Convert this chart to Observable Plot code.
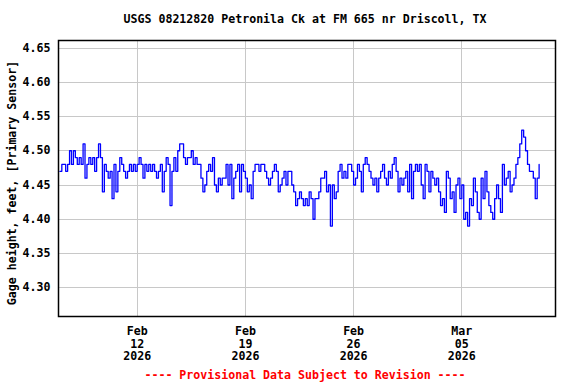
<!DOCTYPE html>
<html><head><meta charset="utf-8">
<script src="https://cdn.jsdelivr.net/npm/d3@7"></script>
<script src="https://cdn.jsdelivr.net/npm/@observablehq/plot@0.6"></script>
<style>body{margin:0;background:#fff}</style>
</head><body><div id="chart"></div>
<script>
const title = "USGS 08212820 Petronila Ck at FM 665 nr Driscoll, TX";
const yLabel = "Gage height, feet, [Primary Sensor]";
const footer = "---- Provisional Data Subject to Revision ----";
const startUTC = "2026-02-07T00:00Z";
const stepHours = 3;
const gage = [
4.47,4.48,4.48,4.47,4.48,4.50,4.48,4.50,4.49,4.48,
4.49,4.48,4.51,4.46,4.48,4.49,4.48,4.49,4.47,4.49,
4.51,4.49,4.44,4.48,4.47,4.46,4.47,4.43,4.48,4.44,
4.47,4.49,4.48,4.47,4.46,4.47,4.48,4.47,4.48,4.47,
4.48,4.49,4.48,4.46,4.48,4.47,4.48,4.47,4.48,4.47,
4.46,4.47,4.48,4.44,4.47,4.49,4.48,4.42,4.47,4.49,
4.47,4.50,4.51,4.51,4.49,4.48,4.49,4.49,4.50,4.48,
4.49,4.48,4.48,4.46,4.44,4.45,4.47,4.48,4.47,4.49,
4.45,4.44,4.46,4.45,4.46,4.46,4.48,4.45,4.48,4.43,
4.46,4.47,4.48,4.44,4.48,4.47,4.46,4.44,4.45,4.43,
4.47,4.48,4.48,4.47,4.48,4.48,4.47,4.46,4.45,4.46,
4.47,4.48,4.47,4.44,4.45,4.46,4.47,4.45,4.47,4.47,
4.45,4.44,4.42,4.43,4.44,4.43,4.42,4.43,4.42,4.44,
4.43,4.40,4.43,4.43,4.44,4.46,4.46,4.47,4.44,4.45,
4.39,4.45,4.43,4.44,4.47,4.48,4.46,4.47,4.46,4.48,
4.48,4.47,4.45,4.46,4.48,4.47,4.44,4.48,4.49,4.48,
4.47,4.46,4.45,4.46,4.44,4.46,4.47,4.48,4.46,4.45,
4.47,4.46,4.48,4.49,4.47,4.44,4.46,4.45,4.46,4.47,
4.44,4.48,4.43,4.47,4.48,4.47,4.48,4.45,4.43,4.48,
4.47,4.44,4.47,4.46,4.45,4.46,4.44,4.42,4.43,4.41,
4.47,4.46,4.43,4.44,4.41,4.45,4.46,4.43,4.45,4.40,
4.41,4.39,4.43,4.42,4.46,4.44,4.41,4.40,4.46,4.43,
4.47,4.44,4.42,4.41,4.40,4.43,4.45,4.43,4.41,4.48,
4.45,4.46,4.47,4.44,4.45,4.46,4.48,4.49,4.51,4.53,
4.52,4.50,4.48,4.47,4.47,4.46,4.43,4.46,4.48
];
const yTicks = [4.30, 4.35, 4.40, 4.45, 4.50, 4.55, 4.60, 4.65];
const xTicks = ["2026-02-12", "2026-02-19", "2026-02-26", "2026-03-05"];
const xDomain = ["2026-02-06T21:50Z", "2026-03-11T01:27Z"];
const yDomain = [4.258, 4.661];

const fontFamily = "'DejaVu Sans Mono', monospace";
const t0 = Date.parse(startUTC);
const rows = gage.map((v, i) => ({t: new Date(t0 + i * stepHours * 3600e3), v}));
const xDates = xTicks.map(d => new Date(d + "T00:00Z"));
const monthNames = ["Jan","Feb","Mar","Apr","May","Jun","Jul","Aug","Sep","Oct","Nov","Dec"];
const fmtX = d => `${monthNames[d.getUTCMonth()]}\n${String(d.getUTCDate()).padStart(2,"0")}\n${d.getUTCFullYear()}`;

const plot = Plot.plot({
  width: 576, height: 384,
  marginTop: 40, marginBottom: 68, marginLeft: 58, marginRight: 21,
  style: {fontFamily, fontSize: "11.6px", fontWeight: "bold", background: "#fff", color: "#000"},
  x: {type: "utc", domain: xDomain.map(d => new Date(d))},
  y: {domain: yDomain},
  marks: [
    Plot.gridY(yTicks, {stroke: "#c8c8c8", strokeOpacity: 1, shapeRendering: "crispEdges"}),
    Plot.gridX(xDates, {stroke: "#c8c8c8", strokeOpacity: 1, shapeRendering: "crispEdges"}),
    Plot.line(rows, {x: "t", y: "v", stroke: "#0000ff", strokeWidth: 1.3, curve: "step-after"}),
    Plot.frame({stroke: "#000", strokeWidth: 1.5}),
    Plot.axisY(yTicks, {tickSize: 0, tickPadding: 8, tickFormat: d => d.toFixed(2), label: null}),
    Plot.axisX(xDates, {tickSize: 0, tickPadding: 10, tickFormat: fmtX, label: null, lineHeight: 1.08})
  ]
});
document.getElementById("chart").appendChild(plot);

const svg = d3.select(plot);
svg.append("text").attr("x", 305).attr("y", 23).attr("text-anchor", "middle")
  .attr("font-family", fontFamily).attr("font-size", "11.6px").attr("font-weight", "bold")
  .attr("fill", "#000").text(title);
svg.append("text").attr("transform", "translate(15.5,183) rotate(-90)").attr("text-anchor", "middle")
  .attr("font-family", fontFamily).attr("font-size", "11.6px").attr("font-weight", "bold")
  .attr("fill", "#000").text(yLabel);
svg.append("text").attr("x", 305).attr("y", 379).attr("text-anchor", "middle")
  .attr("font-family", fontFamily).attr("font-size", "11.6px").attr("font-weight", "bold")
  .attr("fill", "#ff0000").text(footer);
</script>
</body></html>
